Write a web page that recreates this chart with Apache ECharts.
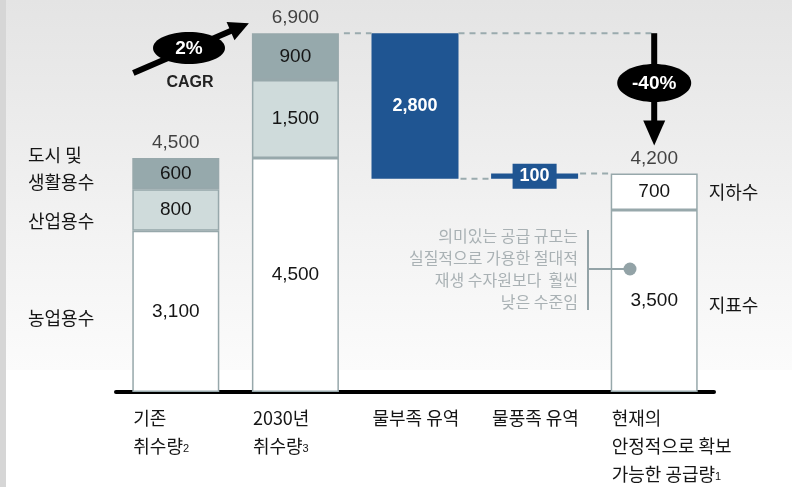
<!DOCTYPE html>
<html><head><meta charset="utf-8">
<script src="https://cdn.jsdelivr.net/npm/echarts@6/dist/echarts.min.js"></script>
<style>html,body{margin:0;padding:0;background:#fff}#c{width:792px;height:487px}</style>
</head><body><div id="c"></div>
<script>
// ---- data ----
const categories = ['기존\n취수량', '2030년\n취수량', '물부족 유역', '물풍족 유역', '현재의\n안정적으로 확보\n가능한 공급량'];
const footnotes = ['2', '3', '', '', '1'];
const agricultural = [3100, 4500, null, null, 3500];   // 농업용수 / 지표수
const industrial   = [800, 1500, null, null, 700];     // 산업용수 / 지하수
const municipal    = [600, 900, null, null, null];     // 도시 및 생활용수
const shortfall    = [null, null, 2800, null, null];   // 물부족 유역
const surplus      = [null, null, null, 100, null];    // 물풍족 유역
const totals       = [4500, 6900, null, null, 4200];
const cagrText = '2%';
const changeText = '-40%';
const noteLines = ['의미있는 공급 규모는', '실질적으로 가용한 절대적', '재생 수자원보다  훨씬', '낮은 수준임'];

// floating base for waterfall steps
const base = [0, 0, totals[1] - shortfall[2], totals[1] - shortfall[2], 0];

const NUM = "'Liberation Sans', Arial, 'Noto Sans CJK KR'";
const KR = "'Noto Sans CJK KR', 'Liberation Sans'";
const BORDER = '#97a8ab';
const BLUE = '#1f5592';
const TXT = '#151515';
const fmt = v => Number(v).toLocaleString('en-US');

const chart = echarts.init(document.getElementById('c'), null, {renderer: 'canvas'});

function styled(arr, fills) {
  return arr.map((v, i) => v == null ? null : {
    value: v,
    itemStyle: {color: fills[i], borderColor: BORDER, borderWidth: 1.5}
  });
}
const segLabel = {show: true, position: 'inside', color: TXT, fontFamily: NUM, fontSize: 19, formatter: p => fmt(p.value)};

chart.setOption({
  animation: false,
  grid: {left: 116, right: 78, top: 28, bottom: 95},
  xAxis: {type: 'category', data: categories,
    axisLine: {lineStyle: {color: '#000', width: 4}},
    axisTick: {show: false}, axisLabel: {show: false}, splitLine: {show: false}},
  yAxis: {type: 'value', min: 0, max: 7000, show: false},
  series: [
    {type: 'bar', stack: 's', barWidth: 87, data: base, itemStyle: {color: 'transparent'}, silent: true},
    {type: 'bar', stack: 's', barWidth: 87, data: styled(agricultural, ['#fff','#fff','#fff','#fff','#fff']), label: segLabel},
    {type: 'bar', stack: 's', barWidth: 87, data: styled(industrial, ['#cfdbdb','#cfdbdb','#fff','#fff','#fff']), label: segLabel},
    {type: 'bar', stack: 's', barWidth: 87, data: styled(municipal, ['#96a9ac','#96a9ac','#96a9ac','#96a9ac','#96a9ac']), label: segLabel},
    {type: 'bar', stack: 's', barWidth: 87, data: shortfall, itemStyle: {color: BLUE},
      label: {show: true, position: 'inside', color: '#fff', fontWeight: 'bold', fontFamily: NUM, fontSize: 18, formatter: p => fmt(p.value)}},
    {type: 'bar', stack: 's', barWidth: 87, data: surplus, itemStyle: {color: BLUE},
      label: {show: true, position: 'inside', color: '#fff', fontWeight: 'bold', fontFamily: NUM, fontSize: 18,
        backgroundColor: BLUE, padding: [4, 7, 3, 7], formatter: p => fmt(p.value)}},
    {type: 'scatter', data: totals, symbolSize: 1, itemStyle: {color: 'transparent'}, z: 5,
      label: {show: true, position: 'top', distance: 5, color: TXT, fontFamily: NUM, fontSize: 19, formatter: p => fmt(p.value)}}
  ]
});

const P = (i, v) => chart.convertToPixel({xAxisIndex: 0, yAxisIndex: 0}, [i, v]);
const half = 43.5;
const g = [];
// background
g.push({type: 'rect', z: -10, silent: true, shape: {x: 0, y: 0, width: 792, height: 370},
  style: {fill: new echarts.graphic.LinearGradient(0, 0, 0, 1, [{offset: 0, color: '#e4e4e4'}, {offset: 0.85, color: '#f8f8f8'}, {offset: 1, color: '#fbfbfb'}])}});
g.push({type: 'rect', z: -9, silent: true, shape: {x: 0, y: 0, width: 6, height: 487}, style: {fill: '#d6d6d6'}});

// x axis labels (left-aligned at bar edge)
categories.forEach((c, i) => {
  const [cx] = P(i, 0);
  const lines = c.split('\n');
  const txt = lines.map((l, k) => '{t|' + l + '}' + (k === lines.length - 1 && footnotes[i] ? '{s|' + footnotes[i] + '}' : '')).join('\n');
  g.push({type: 'text', z: 50, x: cx - half + 1, y: 404, style: {text: txt, fill: TXT,
    rich: {t: {fontFamily: KR, fontSize: 18, lineHeight: 28, fill: TXT},
           s: {fontFamily: NUM, fontSize: 11, lineHeight: 28, fill: TXT, padding: [6, 0, 0, 0]}}}});
});

// left labels
const leftText = (t, y) => g.push({type: 'text', z: 50, x: 28, y: y, style: {text: t, fontFamily: KR, fontSize: 18, fill: TXT, verticalAlign: 'middle'}});
leftText('도시 및', 155); leftText('생활용수', 182); leftText('산업용수', 221); leftText('농업용수', 318);
// right labels
const [x5, yTop5] = P(4, totals[4]);
const [, ySplit5] = P(4, agricultural[4]);
g.push({type: 'text', z: 50, x: x5 + half + 11, y: (yTop5 + ySplit5) / 2, style: {text: '지하수', fontFamily: KR, fontSize: 18, fill: TXT, verticalAlign: 'middle'}});
g.push({type: 'text', z: 50, x: x5 + half + 11, y: 305, style: {text: '지표수', fontFamily: KR, fontSize: 18, fill: TXT, verticalAlign: 'middle'}});

// dashed connectors
const dash = (x1, y1, x2, y2) => g.push({type: 'line', z: 40, silent: true, shape: {x1, y1, x2, y2},
  style: {stroke: '#9aabae', lineWidth: 2, lineDash: [6, 5]}});
const [x2c, yTop2] = P(1, totals[1]);
const [x3c] = P(2, 0);
const [x4c, yBase] = P(3, base[3]);
const [, yTop4] = P(3, base[3] + surplus[3]);
dash(x2c + half + 5, yTop2, x3c - half, yTop2);
dash(x3c + half, yTop2, x5, yTop2);
dash(x3c + half + 2, yBase, x4c - half, yBase);
dash(x4c + half + 2, yTop4, x5 - half, yTop4);

// down arrow (-40%)
const tipY = yTop5 - 28;
g.push({type: 'line', z: 60, shape: {x1: x5, y1: yTop2, x2: x5, y2: tipY - 20}, style: {stroke: '#000', lineWidth: 6}});
g.push({type: 'polygon', z: 60, shape: {points: [[x5 - 11, tipY - 25], [x5 + 11, tipY - 25], [x5, tipY]]}, style: {fill: '#000'}});
g.push({type: 'ellipse', z: 61, shape: {cx: x5, cy: 83, rx: 37, ry: 19}, style: {fill: '#000'}});
g.push({type: 'text', z: 62, x: x5, y: 84, style: {text: changeText, fill: '#fff', fontFamily: NUM, fontWeight: 'bold', fontSize: 19, align: 'center', verticalAlign: 'middle'}});

// CAGR arrow
const [x1c] = P(0, 0);
const tail = [x1c - half + 1, 73];
const tip = [x2c - half - 3, yTop2 - 10];
const dx = tip[0] - tail[0], dy = tip[1] - tail[1], L = Math.hypot(dx, dy);
const ux = dx / L, uy = dy / L, px = -uy, py = ux;
const bx = tip[0] - 20 * ux, by = tip[1] - 20 * uy;
g.push({type: 'line', z: 60, shape: {x1: tail[0], y1: tail[1], x2: bx + 2 * ux, y2: by + 2 * uy}, style: {stroke: '#000', lineWidth: 6}});
g.push({type: 'polygon', z: 60, shape: {points: [[bx + 10 * px, by + 10 * py], [bx - 10 * px, by - 10 * py], tip]}, style: {fill: '#000'}});
g.push({type: 'ellipse', z: 61, shape: {cx: 189, cy: 48, rx: 36, ry: 16}, style: {fill: '#000'}});
g.push({type: 'text', z: 62, x: 189, y: 49, style: {text: cagrText, fill: '#fff', fontFamily: NUM, fontWeight: 'bold', fontSize: 19, align: 'center', verticalAlign: 'middle'}});
g.push({type: 'text', z: 62, x: 190, y: 83, style: {text: 'CAGR', fill: '#222', fontFamily: NUM, fontWeight: 'bold', fontSize: 16, align: 'center', verticalAlign: 'middle'}});

// annotation
g.push({type: 'text', z: 50, x: 578, y: 269, style: {text: noteLines.join('\n'), fill: '#a9b1b4', fontFamily: KR, fontSize: 16, lineHeight: 22, align: 'right', verticalAlign: 'middle'}});
g.push({type: 'line', z: 50, shape: {x1: 588, y1: 230, x2: 588, y2: 310}, style: {stroke: '#93a3a7', lineWidth: 2}});
g.push({type: 'line', z: 50, shape: {x1: 588, y1: 269, x2: 626, y2: 269}, style: {stroke: '#93a3a7', lineWidth: 2}});
g.push({type: 'circle', z: 51, shape: {cx: 630, cy: 269, r: 6.5}, style: {fill: '#93a3a7'}});

chart.setOption({graphic: g});
</script></body></html>
